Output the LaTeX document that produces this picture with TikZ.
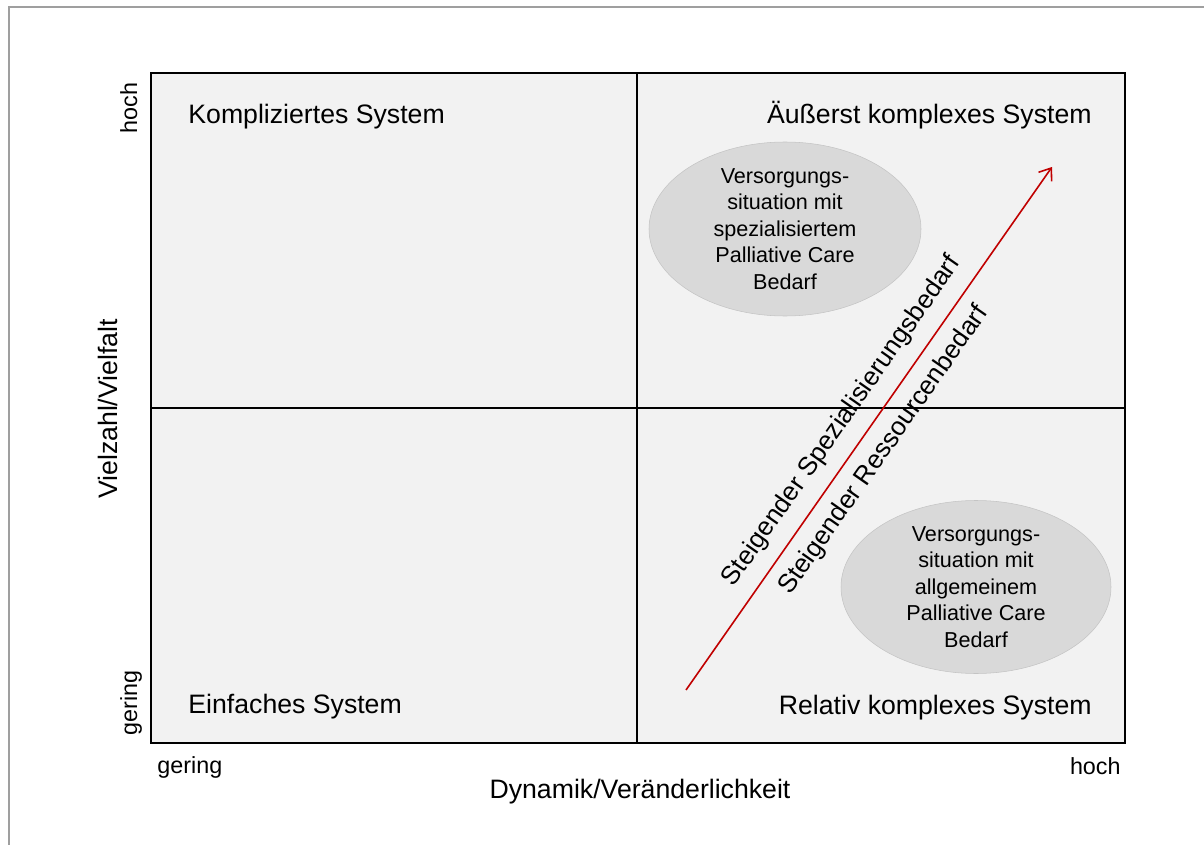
\documentclass[tikz,border=0pt]{standalone}
\usepackage{fontspec}
\setmainfont{Liberation Sans}
\usetikzlibrary{arrows.meta,shapes.geometric}

\definecolor{quadfill}{HTML}{F2F2F2}
\definecolor{blobfill}{HTML}{D9D9D9}
\definecolor{blobline}{HTML}{C4C4C4}
\definecolor{trendred}{HTML}{C00000}

\begin{document}
\begin{tikzpicture}[
            x = 0.75pt, y = -0.75pt, % one unit = one pixel of the slide
            > = {Straight Barb[length=8pt,width=12pt]}, % open arrow head
            big/.style = {font=\fontsize{20}{24}\selectfont, inner sep=0pt},
            small/.style = {font=\fontsize{17.5}{21}\selectfont, inner sep=0pt},
            slant/.style = {font=\fontsize{19.5}{23}\selectfont, inner sep=0pt, text=black},
            semithick % line style
        ]

        \tikzstyle{blob}=[
            ellipse,
            draw = blobline,
            thin,
            fill = blobfill,
            align = center,
            inner sep = 0pt,
            font = \fontsize{16.2}{19.9}\selectfont
        ]

        \useasboundingbox (0,0) rectangle (1204,845);
        \draw[gray!75, line width=1pt] (9,845) -- (9,7) -- (1204,7);

        % the four fields
        \draw[fill=quadfill, line width=1.8pt] (151,73) rectangle (1125,743);
        \draw[line width=1.3pt] (637,73) -- (637,743);
        \draw[line width=1.3pt] (151,408) -- (1125,408);

        \node[big, anchor=base west] (kompliziert) at (188,124) {Kompliziertes System};
        \node[big, anchor=base east] (aeusserst) at (1092,124) {Äußerst komplexes System};
        \node[big, anchor=base west] (einfach) at (188,713) {Einfaches System};
        \node[big, anchor=base east] (relativ) at (1092,714) {Relativ komplexes System};

        % axes
        \node[small, anchor=base west] (xlow) at (157,773) {gering};
        \node[small, anchor=base east] (xhigh) at (1121,774) {hoch};
        \node[big, anchor=base] (xlabel) at (640,798) {Dynamik/Veränderlichkeit};
        \node[small, anchor=base, rotate=90] (yhigh) at (137,108) {hoch};
        \node[small, anchor=base, rotate=90] (ylow) at (137,703) {gering};
        \node[big, anchor=base, rotate=90] (ylabel) at (117,409) {Vielzahl/Vielfalt};

        % care situations
        \node[blob, minimum width=204pt, minimum height=130.5pt] (spezial) at (785,229)
            {Versorgungs-\\situation mit\\spezialisiertem\\Palliative Care\\Bedarf};
        \node[blob, minimum width=202.5pt, minimum height=129.75pt] (allgemein) at (976,587)
            {Versorgungs-\\situation mit\\allgemeinem\\Palliative Care\\Bedarf};

        % trend
        \coordinate (start) at (686,690);
        \coordinate (end) at (1052,167);
        \draw[->, trendred, line width=1.2pt] (start) -- (end)
            node[slant, pos=0.485, sloped, above=10pt] (spezbedarf) {Steigender Spezialisierungsbedarf}
            node[slant, pos=0.485, sloped, below=9pt] (ressbedarf) {Steigender Ressourcenbedarf};

    \end{tikzpicture}
\end{document}
